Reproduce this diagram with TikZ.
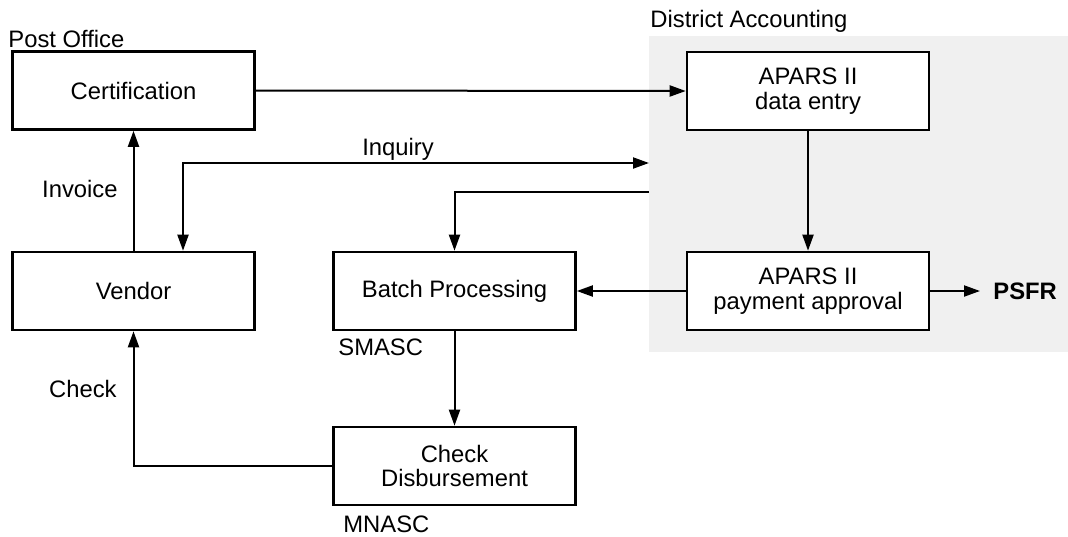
\documentclass[tikz,border=0pt]{standalone}
\usepackage{fontspec}
\setmainfont{Liberation Sans}
\usetikzlibrary{arrows.meta,calc}

\begin{document}
\begin{tikzpicture}[
            x=0.5pt, y=-0.5pt,
            font=\fontsize{11.9}{12.2}\selectfont,
            process/.style={rectangle, draw, line width=1.3pt, fill=white, align=center, minimum width=121pt, minimum height=39pt, inner sep=2pt},
            flow/.style={line width=1pt, -{Triangle[length=8pt,width=5.5pt]}},
            twoway/.style={line width=1pt, {Triangle[length=8pt,width=5.5pt]}-{Triangle[length=8pt,width=5.5pt]}},
            tag/.style={inner sep=0pt}
        ]
        \useasboundingbox (0,0) rectangle (1068,536);

        % District Accounting area
        \fill[black!6] (649,36) rectangle (1068,352);

        % Boxes
        \node[process] (cert) at (133.5,90.5) {Certification};
        \node[process] (entry) at (808,91) {APARS II\\data entry};
        \node[process] (vendor) at (133.5,291) {Vendor};
        \node[process] (batch) at (454.5,291) {Batch Processing};
        \node[process] (approval) at (808,291) {APARS II\\payment approval};
        \node[process] (disb) at (454.5,466) {Check\\Disbursement};
        \node[tag, anchor=west, inner xsep=6.5pt, font=\fontsize{11.9}{12.2}\selectfont\bfseries] (psfr) at (980,291) {PSFR};

        % Labels
        \node[tag, anchor=base west] (post) at (8,47) {Post Office};
        \node[tag, anchor=base west] (district) at (650,27) {District Accounting};
        \node[tag, anchor=base west] (smasc) at (338,355) {SMASC};
        \node[tag, anchor=base west] (mnasc) at (343,532) {MNASC};
        \node[tag, anchor=base east] (invoice) at (118,197) {Invoice};
        \node[tag, anchor=base east] (check) at (117,397) {Check};
        \node[tag, anchor=base] (inquiry) at (398,155) {Inquiry};

        % Edge points of the shaded area
        \coordinate (inq) at (649,163);
        \coordinate (ret) at (649,192);
        \coordinate (inqx) at (183,0);

        % Connections
        \draw[flow] (cert.east) -- (entry.west);
        \draw[flow] (entry.south) -- (approval.north);
        \draw[flow] (approval.west) -- (batch.east);
        \draw[flow] (approval.east) -- (psfr.west);
        \draw[flow] (batch.south) -- (disb.north);
        \draw[flow] (vendor.north) -- (cert.south);
        \draw[flow] (disb.west) -| (vendor.south);
        \draw[twoway] (inq) -| (vendor.north -| inqx);
        \draw[flow] (ret) -| (batch.north);

\end{tikzpicture}
\end{document}
